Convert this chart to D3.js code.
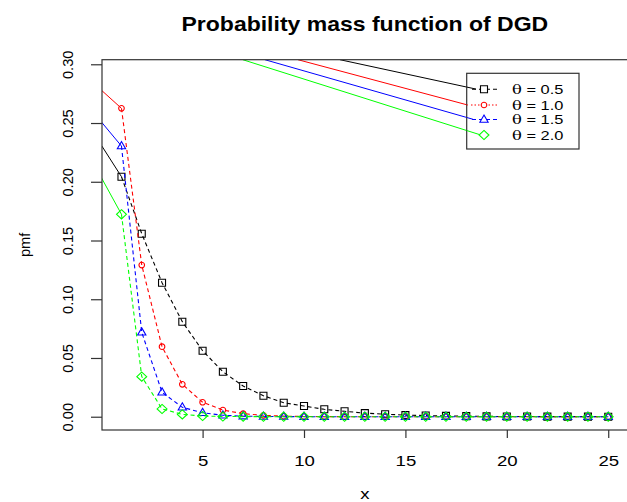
<!DOCTYPE html>
<html lang="en">
	<head>
		<meta charset="utf-8">
		<title>Probability mass function of DGD</title>
		<script src="https://d3js.org/d3.v7.min.js"></script>
		<style>
			body { margin: 0; background: #fff; }
			text { font-family: "Liberation Sans", Arial, sans-serif; }
		</style>
	</head>
	<body>
		<script type="text/javascript">

			// x values
			const xs = d3.range(1, 26);

			// pmf values (theta = 0.5, 1.0, 1.5, 2.0)
			const pmf05 = [0.2043, 0.1558, 0.1141, 0.0809, 0.0562, 0.0383, 0.0261, 0.0179, 0.0119, 0.0091,
				0.0063, 0.0046, 0.0031, 0.0021, 0.0014, 0.0010, 0.0007, 0.0005, 0.0003, 0.0002,
				0.00015, 0.0001, 0.00007, 0.00005, 0.00003];
			const pmf10 = [0.2625, 0.1291, 0.0596, 0.0276, 0.0123, 0.0057, 0.0026, 0.0012, 0.0005, 0.0002,
				0.0001, 0.00005, 0.00002, 0.00001, 0, 0, 0, 0, 0, 0, 0, 0, 0, 0, 0];
			const pmf15 = [0.2304, 0.0718, 0.0208, 0.0080, 0.0034, 0.0012, 0.0005, 0.0002, 0.0001, 0.00004,
				0.00002, 0.00001, 0, 0, 0, 0, 0, 0, 0, 0, 0, 0, 0, 0, 0];
			const pmf20 = [0.1723, 0.0341, 0.0066, 0.0020, 0.0006, 0.0002, 0.0001, 0.00003, 0.00001, 0,
				0, 0, 0, 0, 0, 0, 0, 0, 0, 0, 0, 0, 0, 0, 0];

			// the stray solid segments in the picture, in data units: [[x1, y1], [x2, y2]]
			const leftSolid05 = [[0, 0.2313], [1, 0.2043]];
			const leftSolid10 = [[0, 0.2781], [1, 0.2625]];
			const leftSolid15 = [[0, 0.2511], [1, 0.2304]];
			const leftSolid20 = [[0, 0.2038], [1, 0.1723]];
			const topSolid05 = [[11.77, 0.3039], [18.48, 0.2789]];
			const topSolid10 = [[9.70, 0.3039], [18.08, 0.2653]];
			const topSolid15 = [[8.07, 0.3039], [18.33, 0.2532]];
			const topSolid20 = [[6.98, 0.3039], [18.72, 0.2398]];

			const seriesNames = ["0.5", "1.0", "1.5", "2.0"];
			const seriesColors = ["#000000", "#ff0000", "#0000ff", "#00ff00"];
			const seriesSymbols = ["square", "circle", "triangle", "diamond"];
			const legendDash = ["4,3", "1.5,2", "4,3", null];

			const xTicks = [5, 10, 15, 20, 25];
			const yTicks = [0, 0.05, 0.10, 0.15, 0.20, 0.25, 0.30];

			const series = seriesNames.map((name, i) => ({
				name: name,
				color: seriesColors[i],
				symbol: seriesSymbols[i],
				dash: legendDash[i],
				values: [pmf05, pmf10, pmf15, pmf20][i].map((v, j) => [xs[j], v]),
				left: [leftSolid05, leftSolid10, leftSolid15, leftSolid20][i],
				top: [topSolid05, topSolid10, topSolid15, topSolid20][i]
			}));

			const width = 627;
			const height = 502;
			const plotLeft = 102, plotRight = 627.7, plotTop = 59.7, plotBottom = 430;

			const x = d3.scaleLinear()
				.domain([0.04, 25.96])
				.range([plotLeft, plotRight]);

			const y = d3.scaleLinear()
				.domain([-0.0113, 0.3039])
				.range([plotBottom, plotTop]);

			const svg = d3.select("body").append("svg")
				.attr("width", width)
				.attr("height", height)
				.attr("viewBox", [0, 0, width, height]);

			svg.append("clipPath")
				.attr("id", "plot-clip")
				.append("rect")
				.attr("x", plotLeft)
				.attr("y", plotTop)
				.attr("width", plotRight - plotLeft)
				.attr("height", plotBottom - plotTop);

			// symbol path, centred on 0,0
			function symbolPath(kind, s) {
				if (kind === "square") return `M${-s},${-s}H${s}V${s}H${-s}Z`;
				if (kind === "triangle") return `M0,${-s * 1.25}L${s * 1.15},${s * 0.75}L${-s * 1.15},${s * 0.75}Z`;
				if (kind === "diamond") return `M0,${-s * 1.35}L${s * 1.45},0L0,${s * 1.35}L${-s * 1.45},0Z`;
				return d3.arc()({innerRadius: 0, outerRadius: s, startAngle: 0, endAngle: 2 * Math.PI});
			}
			const symbolSize = {square: 3.5, circle: 2.8, triangle: 3.6, diamond: 3.4};

			const line = d3.line()
				.x(d => x(d[0]))
				.y(d => y(d[1]));

			const plot = svg.append("g")
				.attr("clip-path", "url(#plot-clip)");

			// solid segments
			series.forEach(s => {
				plot.append("path")
					.attr("d", line(s.left))
					.attr("fill", "none")
					.attr("stroke", s.color)
					.attr("stroke-width", 1);
				plot.append("path")
					.attr("d", line(s.top))
					.attr("fill", "none")
					.attr("stroke", s.color)
					.attr("stroke-width", 1);
			});

			// dashed lines with symbols
			series.forEach(s => {
				plot.append("path")
					.attr("d", line(s.values))
					.attr("fill", "none")
					.attr("stroke", s.color)
					.attr("stroke-width", 1.1)
					.attr("stroke-dasharray", "4,3");

				plot.append("g")
					.selectAll("path")
					.data(s.values)
					.join("path")
					.attr("transform", d => `translate(${x(d[0])},${y(d[1])})`)
					.attr("d", symbolPath(s.symbol, symbolSize[s.symbol]))
					.attr("fill", "none")
					.attr("stroke", s.color)
					.attr("stroke-width", 1.1);
			});

			// box
			svg.append("rect")
				.attr("x", plotLeft)
				.attr("y", plotTop)
				.attr("width", plotRight - plotLeft)
				.attr("height", plotBottom - plotTop)
				.attr("fill", "none")
				.attr("stroke", "#333")
				.attr("stroke-width", 1.2);

			// x axis
			const xAxis = svg.append("g")
				.attr("transform", `translate(0,${plotBottom})`)
				.call(d3.axisBottom(x).tickValues(xTicks).tickSize(8).tickPadding(0).tickFormat(d3.format("d")))
				.call(g => g.select(".domain").remove());
			xAxis.selectAll(".tick line").attr("stroke", "#333").attr("stroke-width", 1.2);
			xAxis.selectAll(".tick text")
				.attr("y", 0)
				.attr("dy", 0)
				.attr("transform", "translate(0,36) scale(1.2,1)")
				.attr("fill", "#000")
				.style("font-size", "15.5px");

			// y axis
			const yAxis = svg.append("g")
				.attr("transform", `translate(${plotLeft},0)`)
				.call(d3.axisLeft(y).tickValues(yTicks).tickSize(11).tickFormat(d3.format(".2f")))
				.call(g => g.select(".domain").remove());
			yAxis.selectAll(".tick line").attr("stroke", "#333").attr("stroke-width", 1.2);
			yAxis.selectAll(".tick text")
				.attr("x", 0)
				.attr("dy", 0)
				.attr("transform", "translate(-29,0) rotate(-90)")
				.attr("text-anchor", "middle")
				.attr("fill", "#000")
				.style("font-size", "14.7px");

			// title and axis labels
			svg.append("text")
				.attr("transform", `translate(${(plotLeft + plotRight) / 2},31) scale(1.18,1)`)
				.attr("text-anchor", "middle")
				.style("font-size", "19.5px")
				.style("font-weight", "bold")
				.text("Probability mass function of DGD");

			svg.append("text")
				.attr("transform", `translate(30,${(plotTop + plotBottom) / 2}) rotate(-90)`)
				.attr("text-anchor", "middle")
				.style("font-size", "14.7px")
				.text("pmf");

			svg.append("text")
				.attr("transform", `translate(${(plotLeft + plotRight) / 2},499) scale(1.2,1)`)
				.attr("text-anchor", "middle")
				.style("font-size", "15.5px")
				.text("x");

			// legend
			const legend = svg.append("g");
			legend.append("rect")
				.attr("x", 466.7)
				.attr("y", 73.3)
				.attr("width", 112.3)
				.attr("height", 75.7)
				.attr("fill", "#fff")
				.attr("stroke", "#333")
				.attr("stroke-width", 1.2);

			// the solid lines run into the legend, redraw their last piece on top of the box
			series.forEach(s => {
				const [p0, p1] = s.top;
				const t = (x.invert(466.7) - p0[0]) / (p1[0] - p0[0]);
				legend.append("path")
					.attr("d", line([[x.invert(466.7), p0[1] + t * (p1[1] - p0[1])], p1]))
					.attr("fill", "none")
					.attr("stroke", s.color)
					.attr("stroke-width", 1);
			});

			const legendRowY = [89.3, 105, 119.5, 135];
			series.forEach((s, i) => {
				const row = legend.append("g")
					.attr("transform", `translate(0,${legendRowY[i]})`);
				if (s.dash) {
					row.append("line")
						.attr("x1", 471)
						.attr("x2", 497)
						.attr("stroke", s.color)
						.attr("stroke-width", 1.1)
						.attr("stroke-dasharray", s.dash)
						.attr("stroke-dashoffset", s.dash === "4,3" ? -1 : 0);
				}
				row.append("path")
					.attr("transform", "translate(484,0)")
					.attr("d", symbolPath(s.symbol, symbolSize[s.symbol]))
					.attr("fill", "#fff")
					.attr("stroke", s.color)
					.attr("stroke-width", 1.1);
				const label = row.append("text")
					.attr("transform", "translate(512,4.6) scale(1.3,1)")
					.style("font-size", "12.6px");
				label.append("tspan")
					.style("font-family", "'DejaVu Serif', 'Liberation Serif', serif")
					.text("θ");
				label.append("tspan")
					.text(" = " + s.name);
			});

		</script>
	</body>
</html>
